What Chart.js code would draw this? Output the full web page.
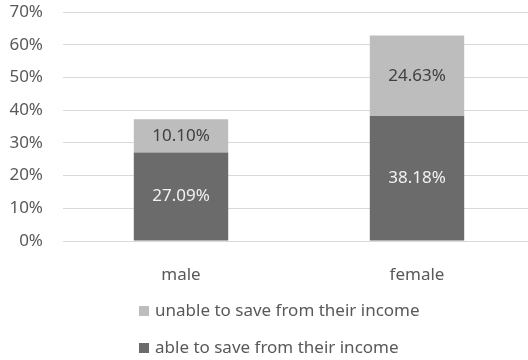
<!DOCTYPE html>
<html>
<head>
<meta charset="utf-8">
<script src="https://cdn.jsdelivr.net/npm/chart.js@4"></script>
<style>
  html, body { margin: 0; padding: 0; background: #fff; overflow: hidden; }
  #wrap { width: 540px; height: 360px; position: relative; }
</style>
</head>
<body>
<div id="wrap"><canvas id="savingChart"></canvas></div>
<script>
// Share of respondents by sex (percent)
const categories = ['male', 'female'];
const ableToSave = [27.09, 38.18];
const unableToSave = [10.10, 24.63];
const seriesLabels = ['able to save from their income', 'unable to save from their income'];
const yTicks = [0, 10, 20, 30, 40, 50, 60, 70];

const FONT = '"Noto Sans", "Open Sans", sans-serif';
const FONT_SIZE = 17;
const DARK = '#6b6b6b';
const LIGHT = '#bdbdbd';
const TEXT = '#595959';

// Value labels inside each bar segment
const barLabels = {
    id: 'barLabels',
    afterDatasetsDraw(chart) {
        const ctx = chart.ctx;
        ctx.save();
        ctx.font = FONT_SIZE + 'px ' + FONT;
        ctx.textAlign = 'center';
        ctx.textBaseline = 'middle';
        chart.data.datasets.forEach((ds, i) => {
            const meta = chart.getDatasetMeta(i);
            meta.data.forEach((bar, j) => {
                ctx.fillStyle = i === 0 ? '#f2f2f2' : '#404040';
                ctx.fillText(ds.data[j].toFixed(2) + '%', bar.x, (bar.y + bar.base) / 2);
            });
        });
        ctx.restore();
    }
};

// Legend stacked in two rows below the axis, last series first
const stackedLegend = {
    id: 'stackedLegend',
    afterDraw(chart) {
        const ctx = chart.ctx;
        const left = 139;
        const rows = [311, 348];
        ctx.save();
        ctx.font = FONT_SIZE + 'px ' + FONT;
        ctx.textBaseline = 'middle';
        ctx.textAlign = 'left';
        const order = chart.data.datasets.map((d, i) => i).reverse();
        order.forEach((idx, r) => {
            const ds = chart.data.datasets[idx];
            ctx.fillStyle = ds.backgroundColor;
            ctx.fillRect(left, rows[r] - 5, 10, 10);
            ctx.fillStyle = TEXT;
            ctx.fillText(ds.label, left + 16, rows[r]);
        });
        ctx.restore();
    }
};

new Chart(document.getElementById('savingChart'), {
    type: 'bar',
    data: {
        labels: categories,
        datasets: [
            { label: seriesLabels[0], data: ableToSave, backgroundColor: DARK },
            { label: seriesLabels[1], data: unableToSave, backgroundColor: LIGHT }
        ]
    },
    options: {
        responsive: true,
        maintainAspectRatio: false,
        animation: false,
        layout: { padding: { left: 9, right: 5, top: 12, bottom: 75 } },
        datasets: { bar: { categoryPercentage: 1, barPercentage: 0.4 } },
        scales: {
            x: {
                stacked: true,
                grid: { display: false },
                border: { display: false },
                afterFit: scale => { scale.height = 44; },
                ticks: { color: TEXT, font: { family: FONT, size: FONT_SIZE }, padding: 16 }
            },
            y: {
                stacked: true,
                min: 0,
                max: 70,
                afterBuildTicks: scale => { scale.ticks = yTicks.map(v => ({ value: v })); },
                afterFit: scale => {
                    scale.width = 54;
                    scale.paddingTop = 0;
                    scale.paddingBottom = 0;
                },
                grid: { color: '#d9d9d9', lineWidth: 1, drawTicks: false },
                border: { display: false },
                ticks: {
                    color: TEXT,
                    font: { family: FONT, size: FONT_SIZE },
                    padding: 20,
                    callback: v => v + '%'
                }
            }
        },
        plugins: {
            legend: { display: false },
            tooltip: { enabled: false }
        }
    },
    plugins: [barLabels, stackedLegend]
});
</script>
</body>
</html>
